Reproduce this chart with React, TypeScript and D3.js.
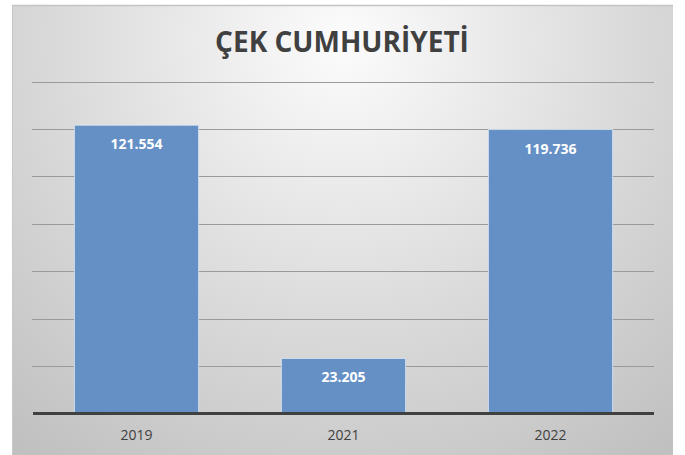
import React from "react";
import * as d3 from "d3";

const categories = ["2019", "2021", "2022"];
const values = [121554, 23205, 119736];
const valueLabels = ["121.554", "23.205", "119.736"];
const yTicks = [0, 20000, 40000, 60000, 80000, 100000, 120000, 140000];
const title = "ÇEK CUMHURİYETİ";

const W = 685;
const H = 455;
const plot = { left: 33, right: 654, top: 81.5, bottom: 413.5 };

export default function App() {
  const x = d3
    .scaleBand<string>()
    .domain(categories)
    .range([plot.left, plot.right])
    .paddingInner(0.4)
    .paddingOuter(0.2);
  const y = d3.scaleLinear().domain([0, 140000]).range([plot.bottom, plot.top]);

  return (
    <svg
      width={W}
      height={H}
      style={{ position: "absolute", left: 0, top: 0 }}
    >
      <defs>
        <radialGradient
          id="bg"
          gradientUnits="userSpaceOnUse"
          cx={343}
          cy={40}
          r={520}
          fx={343}
          fy={40}
        >
          <stop offset="0" stopColor="#fcfcfc" />
          <stop offset="0.55" stopColor="#dadada" />
          <stop offset="1" stopColor="#c0c0c0" />
        </radialGradient>
      </defs>
      <rect x={0} y={0} width={W} height={H} fill="#ffffff" />
      <rect x={12} y={5} width={661} height={H} fill="url(#bg)" />
      <line x1={12} x2={673} y1={5.5} y2={5.5} stroke="#c4c4c4" strokeWidth={1.5} />
      <line x1={12.5} x2={12.5} y1={5} y2={H} stroke="#c8c8c8" strokeWidth={1} />
      <text
        x={342}
        y={52}
        textAnchor="middle"
        fontFamily="'Open Sans', sans-serif"
        fontWeight={700}
        fontSize={28}
        fill="#404040"
      >
        {title}
      </text>
      {yTicks.slice(1).map((t) => (
        <line
          key={t}
          x1={plot.left - 1}
          x2={plot.right}
          y1={Math.round(y(t)) + 0.5}
          y2={Math.round(y(t)) + 0.5}
          stroke="#9a9a9a"
          strokeWidth={1}
        />
      ))}
      {categories.map((c, i) => (
        <g key={c}>
          <rect
            x={x(c)}
            y={y(values[i])}
            width={x.bandwidth()}
            height={plot.bottom - y(values[i])}
            fill="#6590c6"
            stroke="#dce6f2"
            strokeOpacity={0.8}
            strokeWidth={1}
          />
          <text
            x={(x(c) as number) + x.bandwidth() / 2}
            y={y(values[i]) + 24}
            textAnchor="middle"
            fontFamily="'Open Sans', sans-serif"
            fontWeight={700}
            fontSize={14}
            fill="#ffffff"
          >
            {valueLabels[i]}
          </text>
          <text
            x={(x(c) as number) + x.bandwidth() / 2}
            y={440}
            textAnchor="middle"
            fontFamily="'Open Sans', sans-serif"
            fontSize={14}
            fill="#404040"
          >
            {c}
          </text>
        </g>
      ))}
      <line
        x1={plot.left}
        x2={plot.right}
        y1={plot.bottom}
        y2={plot.bottom}
        stroke="#404040"
        strokeWidth={3}
      />
    </svg>
  );
}
